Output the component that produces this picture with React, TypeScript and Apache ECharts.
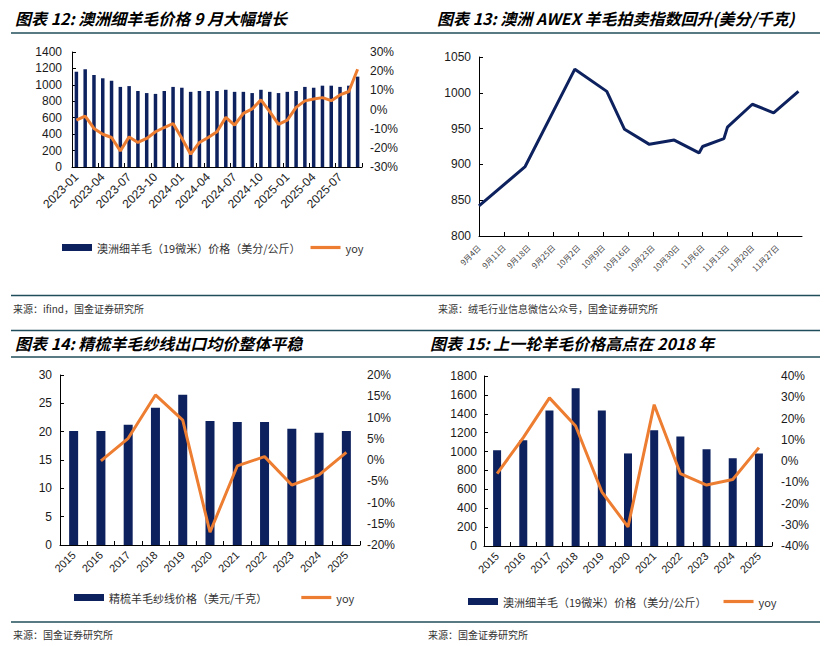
import React, { useEffect, useRef } from 'react';
import * as echarts from 'echarts';

// 图表12: 月度澳洲细羊毛价格
const monthLabels = [
  '2023-01', '2023-02', '2023-03', '2023-04', '2023-05', '2023-06', '2023-07', '2023-08', '2023-09',
  '2023-10', '2023-11', '2023-12', '2024-01', '2024-02', '2024-03', '2024-04', '2024-05', '2024-06',
  '2024-07', '2024-08', '2024-09', '2024-10', '2024-11', '2024-12', '2025-01', '2025-02', '2025-03',
  '2025-04', '2025-05', '2025-06', '2025-07', '2025-08', '2025-09',
];
const woolPrice = [
  1160, 1190, 1120, 1080, 1050, 975, 985, 925, 900, 890, 925, 975, 965, 915, 925, 925, 925, 940,
  915, 915, 900, 940, 915, 900, 915, 925, 975, 965, 990, 990, 975, 990, 1100,
];
const woolYoy = [
  -5.5, -3.4, -9.9, -12.9, -14.6, -21.6, -14.3, -17.2, -15.1, -11.6, -9.4, -7.3, -15, -23.3, -17.2,
  -14.6, -11.6, -4.1, -8.1, -2, 0.3, 5, -1.1, -7.8, -5.5, 1.1, 4.5, 5.5, 6.2, 4.6, 7.6, 9.4, 21,
];

// 图表13: AWEX 指数 (x 为距 9月4日 的天数)
const weekLabels = [
  '9月4日', '9月11日', '9月18日', '9月25日', '10月2日', '10月9日', '10月16日',
  '10月23日', '10月30日', '11月6日', '11月13日', '11月20日', '11月27日',
];
const awexDays = [0, 13, 27, 36, 41, 48, 55, 62, 63, 69, 70, 77, 83, 90];
const awexIndex = [842, 897, 1033, 1002, 949, 928, 934, 916, 925, 936, 952, 984, 972, 1002];

// 图表14 / 15: 年度
const yearLabels = ['2015', '2016', '2017', '2018', '2019', '2020', '2021', '2022', '2023', '2024', '2025'];
const yarnPrice = [20.1, 20.1, 21.2, 24.2, 26.5, 21.9, 21.7, 21.7, 20.5, 19.8, 20.1];
const yarnYoy = [null, -0.2, 5.1, 15.3, 9.4, -17, -1.4, 0.8, -5.9, -3.5, 1.8];
const finePrice = [1015, 1120, 1435, 1670, 1435, 980, 1225, 1160, 1025, 930, 980];
const fineYoy = [-5.9, 11, 29.7, 16.5, -14.5, -31, 26.5, -5.9, -11.3, -8.7, 6.3];

const WOOL_NAME = '澳洲细羊毛（19微米）价格（美分/公斤）';
const YARN_NAME = '精梳羊毛纱线价格（美元/千克）';

const NAVY = '#0d215e';
const ORANGE = '#ed7d31';
const RULE = '#1f4e5a';
const NUM_FONT = '"Liberation Sans", Arial, "Noto Sans CJK SC", sans-serif';
const CJK_FONT = '"Noto Sans CJK SC", sans-serif';

const labelStyle = { color: '#1a1a1a', fontSize: 12, fontFamily: NUM_FONT };
const axisLine = { show: true, lineStyle: { color: '#000', width: 1 } };
const insideTick = { show: true, inside: true, length: 4, lineStyle: { color: '#000' } };
const plain = (v: number) => String(v);

const leftAxis = (gridIndex: number, min: number, max: number, interval: number, margin: number) => ({
  type: 'value' as const,
  gridIndex,
  min,
  max,
  interval,
  axisLine,
  axisTick: insideTick,
  splitLine: { show: false },
  axisLabel: { ...labelStyle, margin, formatter: plain },
});

const rightAxis = (gridIndex: number, min: number, max: number, interval: number, margin: number) => ({
  type: 'value' as const,
  gridIndex,
  position: 'right' as const,
  min,
  max,
  interval,
  axisLine: { show: false },
  axisTick: { show: false },
  splitLine: { show: false },
  axisLabel: { ...labelStyle, margin, formatter: '{value}%' },
});

const catAxis = (gridIndex: number, data: string[], interval: number, fontSize: number) => ({
  type: 'category' as const,
  gridIndex,
  data,
  axisLine,
  axisTick: { ...insideTick, interval },
  axisLabel: { ...labelStyle, fontSize, rotate: 45, interval, margin: 8 },
});

const hrule = (y: number) => ({
  type: 'line',
  shape: { x1: 11, y1: y, x2: 820, y2: y },
  style: { stroke: RULE, lineWidth: 1.5 },
});

const heading = (text: string, x: number, y: number) => ({
  type: 'text',
  x,
  y,
  style: {
    text,
    fill: '#000',
    fontSize: 16,
    fontWeight: 'bold',
    fontStyle: 'italic',
    fontFamily: CJK_FONT,
    verticalAlign: 'middle',
  },
});

const source = (text: string, x: number, y: number) => ({
  type: 'text',
  x,
  y,
  style: { text, fill: '#333', fontSize: 10, fontFamily: CJK_FONT, verticalAlign: 'middle' },
});

const legendBox = (left: number, top: number, gap: number, barName: string) => ({
  left,
  top,
  itemWidth: 30,
  itemHeight: 7,
  itemGap: gap,
  textStyle: { color: '#333', fontSize: 11, fontFamily: CJK_FONT },
  data: [
    { name: barName, icon: 'rect' },
    { name: 'yoy', icon: 'path://M0,0H30V3.2H0Z' },
  ],
  selectedMode: false,
});

const App: React.FC = () => {
  const chartRef = useRef<HTMLDivElement>(null);

  useEffect(() => {
    document.body.style.margin = '0';
    if (!chartRef.current) return;
    const chart = echarts.init(chartRef.current, null, { renderer: 'svg' });

    chart.setOption({
      animation: false,
      backgroundColor: '#fff',
      grid: [
        { left: 72, top: 52, width: 290, height: 115 },
        { left: 479, top: 57, width: 323, height: 179 },
        { left: 60, top: 375, width: 300, height: 170 },
        { left: 484, top: 376, width: 288, height: 170 },
      ],
      xAxis: [
        catAxis(0, monthLabels, 2, 12),
        {
          type: 'value',
          gridIndex: 1,
          min: 0,
          max: 91,
          interval: 7,
          axisLine,
          axisTick: insideTick,
          splitLine: { show: false },
          axisLabel: {
            color: '#444',
            fontSize: 8,
            fontFamily: CJK_FONT,
            rotate: 45,
            margin: 10,
            showMaxLabel: false,
            formatter: (v: number) => weekLabels[Math.round(v / 7)] ?? '',
          },
        },
        catAxis(2, yearLabels, 0, 11),
        catAxis(3, yearLabels, 0, 11),
      ],
      yAxis: [
        leftAxis(0, 0, 1400, 200, 10),
        rightAxis(0, -30, 30, 10, 8),
        leftAxis(1, 800, 1050, 50, 8),
        leftAxis(2, 0, 30, 5, 8),
        rightAxis(2, -20, 20, 5, 7),
        leftAxis(3, 0, 1800, 200, 7),
        rightAxis(3, -40, 40, 10, 9),
      ],
      legend: [
        legendBox(57, 237, 10, WOOL_NAME),
        legendBox(69, 587, 34, YARN_NAME),
        legendBox(463, 591, 17, WOOL_NAME),
      ],
      series: [
        {
          name: WOOL_NAME,
          type: 'bar',
          xAxisIndex: 0,
          yAxisIndex: 0,
          barWidth: 3.5,
          itemStyle: { color: NAVY },
          data: woolPrice,
        },
        {
          name: 'yoy',
          type: 'line',
          xAxisIndex: 0,
          yAxisIndex: 1,
          symbol: 'none',
          lineStyle: { color: ORANGE, width: 3 },
          itemStyle: { color: ORANGE },
          data: woolYoy,
        },
        {
          name: 'AWEX',
          type: 'line',
          xAxisIndex: 1,
          yAxisIndex: 2,
          symbol: 'none',
          lineStyle: { color: NAVY, width: 3 },
          data: awexDays.map((d, i) => [d, awexIndex[i]]),
        },
        {
          name: YARN_NAME,
          type: 'bar',
          xAxisIndex: 2,
          yAxisIndex: 3,
          barWidth: 9,
          itemStyle: { color: NAVY },
          data: yarnPrice,
        },
        {
          name: 'yoy',
          type: 'line',
          xAxisIndex: 2,
          yAxisIndex: 4,
          symbol: 'none',
          lineStyle: { color: ORANGE, width: 3 },
          itemStyle: { color: ORANGE },
          data: yarnYoy,
        },
        {
          name: WOOL_NAME,
          type: 'bar',
          xAxisIndex: 3,
          yAxisIndex: 5,
          barWidth: 8,
          itemStyle: { color: NAVY },
          data: finePrice,
        },
        {
          name: 'yoy',
          type: 'line',
          xAxisIndex: 3,
          yAxisIndex: 6,
          symbol: 'none',
          lineStyle: { color: ORANGE, width: 3 },
          itemStyle: { color: ORANGE },
          data: fineYoy,
        },
      ],
      graphic: [
        heading('图表 12: 澳洲细羊毛价格 9 月大幅增长', 15, 18),
        heading('图表 13: 澳洲 AWEX 羊毛拍卖指数回升(美分/千克)', 437, 18),
        heading('图表 14: 精梳羊毛纱线出口均价整体平稳', 15, 343),
        heading('图表 15: 上一轮羊毛价格高点在 2018 年', 430, 343),
        hrule(33),
        hrule(295.5),
        hrule(330.5),
        hrule(357),
        hrule(622),
        source('来源：ifind，国金证券研究所', 13, 308),
        source('来源：绒毛行业信息微信公众号，国金证券研究所', 438, 308),
        source('来源：国金证券研究所', 13, 634),
        source('来源：国金证券研究所', 428, 634),
      ],
    });

    return () => {
      chart.dispose();
    };
  }, []);

  return <div ref={chartRef} style={{ width: '828px', height: '646px' }}></div>;
};

export default App;
